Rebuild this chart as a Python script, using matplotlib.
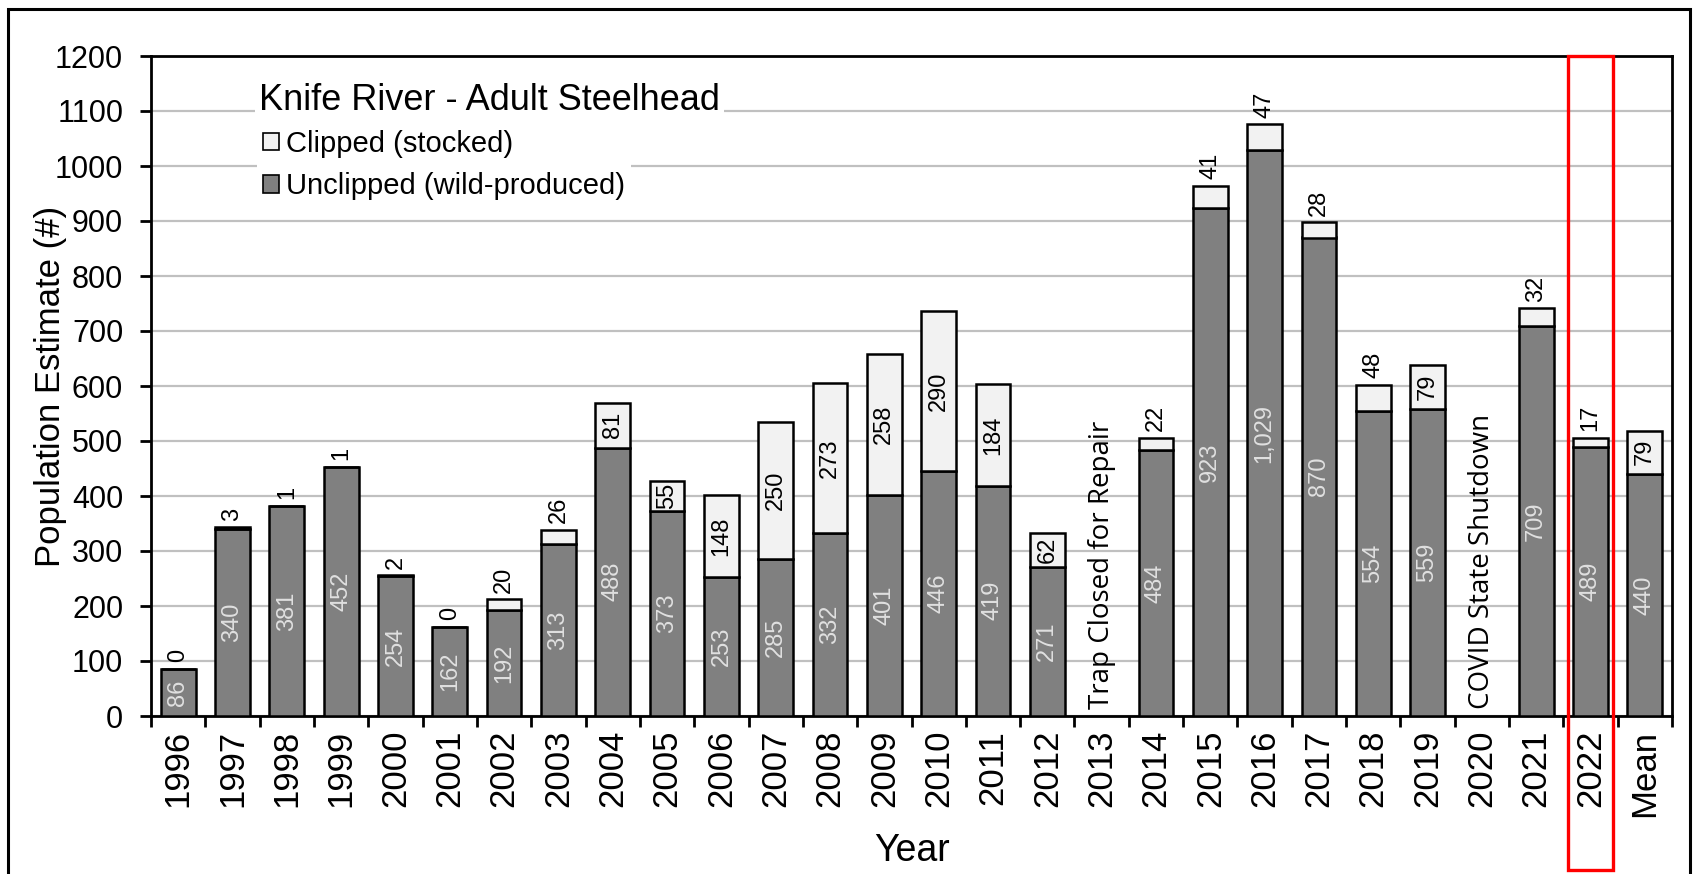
import numpy as np
import matplotlib
matplotlib.use("Agg")
import matplotlib.pyplot as plt
from matplotlib.patches import Rectangle, Patch
from matplotlib.transforms import blended_transform_factory
from matplotlib import font_manager

categories = ["1996", "1997", "1998", "1999", "2000", "2001", "2002", "2003", "2004",
              "2005", "2006", "2007", "2008", "2009", "2010", "2011", "2012", "2013",
              "2014", "2015", "2016", "2017", "2018", "2019", "2020", "2021", "2022", "Mean"]
unclipped = [86, 340, 381, 452, 254, 162, 192, 313, 488, 373, 253, 285, 332, 401, 446,
             419, 271, np.nan, 484, 923, 1029, 870, 554, 559, np.nan, 709, 489, 440]
clipped = [0, 3, 1, 1, 2, 0, 20, 26, 81, 55, 148, 250, 273, 258, 290, 184, 62, np.nan,
           22, 41, 47, 28, 48, 79, np.nan, 32, 17, 79]
notes = {"2013": "Trap Closed for Repair", "2020": "COVID State Shutdown"}
highlight = "2022"
chart_title = "Knife River - Adult Steelhead"

plt.rcParams['font.family'] = ['Liberation Sans', 'DejaVu Sans']

installed = {f.name for f in font_manager.fontManager.ttflist}
if "Liberation Sans Narrow" in installed:
    lab_family, lab_size = ["Liberation Sans Narrow", "Liberation Sans"], 20
else:
    lab_family, lab_size = ["Liberation Sans", "DejaVu Sans"], 17

W, H = 1694, 874
fig = plt.figure(figsize=(W / 100, H / 100), dpi=100)
ax = fig.add_axes([151 / W, 1 - 716 / H, (1672 - 151) / W, (716 - 56) / H])

x = np.arange(len(categories))
u = np.array(unclipped, dtype=float)
c = np.array(clipped, dtype=float)
m = ~np.isnan(u)

dark = "#808080"
light = "#f2f2f2"
bw = 0.64
ax.bar(x[m], u[m], width=bw, color=dark, edgecolor="black", linewidth=1.8, zorder=3)
ax.bar(x[m], c[m], bottom=u[m], width=bw, color=light, edgecolor="black", linewidth=1.8, zorder=3)

for xi, ui, ci in zip(x[m], u[m], c[m]):
    ax.text(xi, ui / 2, f"{int(ui):,}", rotation=90, ha="center", va="center",
            fontsize=lab_size, family=lab_family, color="#e0e0e0", zorder=4)
    if ci >= 50:
        ax.text(xi, ui + ci / 2, f"{int(ci)}", rotation=90, ha="center", va="center",
                fontsize=lab_size, family=lab_family, color="black", zorder=4)
    else:
        ax.text(xi, ui + ci + 12, f"{int(ci)}", rotation=90, ha="center", va="bottom",
                fontsize=lab_size, family=lab_family, color="black", zorder=4)

for cat, txt in notes.items():
    i = categories.index(cat)
    ax.text(i, 12, txt, rotation=90, ha="center", va="bottom", fontsize=20,
            family=["Open Sans", "DejaVu Sans"], color="black", zorder=4)

ax.set_xlim(-0.5, len(categories) - 0.5)
ax.set_ylim(0, 1200)
ax.set_yticks(np.arange(0, 1201, 100))
ax.yaxis.grid(True, color="#c0c0c0", linewidth=1.6, zorder=0)
ax.set_axisbelow(True)

ax.set_xticks(x)
ax.set_xticklabels(categories, rotation=90, fontsize=25)
ax.set_xticks(np.arange(-0.5, len(categories), 1), minor=True)
ax.tick_params(axis="x", which="major", length=0, pad=10)
ax.tick_params(axis="x", which="minor", length=8, width=2, direction="out")
ax.tick_params(axis="y", which="major", length=8, width=2, direction="out", pad=12, labelsize=22)

for s in ax.spines.values():
    s.set_linewidth(2)
    s.set_color("black")

ax.set_ylabel("Population Estimate (#)", fontsize=25)
ax.yaxis.set_label_coords(-0.055, 0.5)
ax.set_xlabel("Year", fontsize=27)
ax.xaxis.set_label_coords(0.5, -0.178)

# title inside the plot area
ax.text((259 - 151) / (1672 - 151), (716 - 100) / 660, chart_title, transform=ax.transAxes,
        ha="left", va="center", fontsize=26, zorder=6,
        bbox=dict(facecolor="white", edgecolor="none", pad=3))

handles = [Patch(facecolor=light, edgecolor="black", linewidth=1.2, label="Clipped (stocked)"),
           Patch(facecolor=dark, edgecolor="black", linewidth=1.2, label="Unclipped (wild-produced)")]
leg = ax.legend(handles=handles, loc="upper left",
                bbox_to_anchor=((257 - 151) / (1672 - 151), (716 - 124) / 660),
                frameon=True, fancybox=False, fontsize=21, handlelength=0.55, handleheight=0.55,
                handletextpad=0.25, labelspacing=0.5, borderpad=0.2, borderaxespad=0)
leg.get_frame().set_edgecolor("none")
leg.get_frame().set_facecolor("white")
leg.get_frame().set_alpha(1)
leg.set_zorder(6)

# red highlight box around 2022 column
hi = categories.index(highlight)
tr = blended_transform_factory(ax.transData, ax.transAxes)
ax.add_patch(Rectangle((hi - 0.42, -0.233), 0.84, 1.233, transform=tr, fill=False,
                       edgecolor="red", linewidth=2.4, clip_on=False, zorder=10))

# outer chart border
fig.add_artist(Rectangle((8 / W, -0.02), (1690 - 8) / W, 1.02 - 9 / H, transform=fig.transFigure,
                         fill=False, edgecolor="black", linewidth=2.2))

fig.savefig("out.png", dpi=100)
